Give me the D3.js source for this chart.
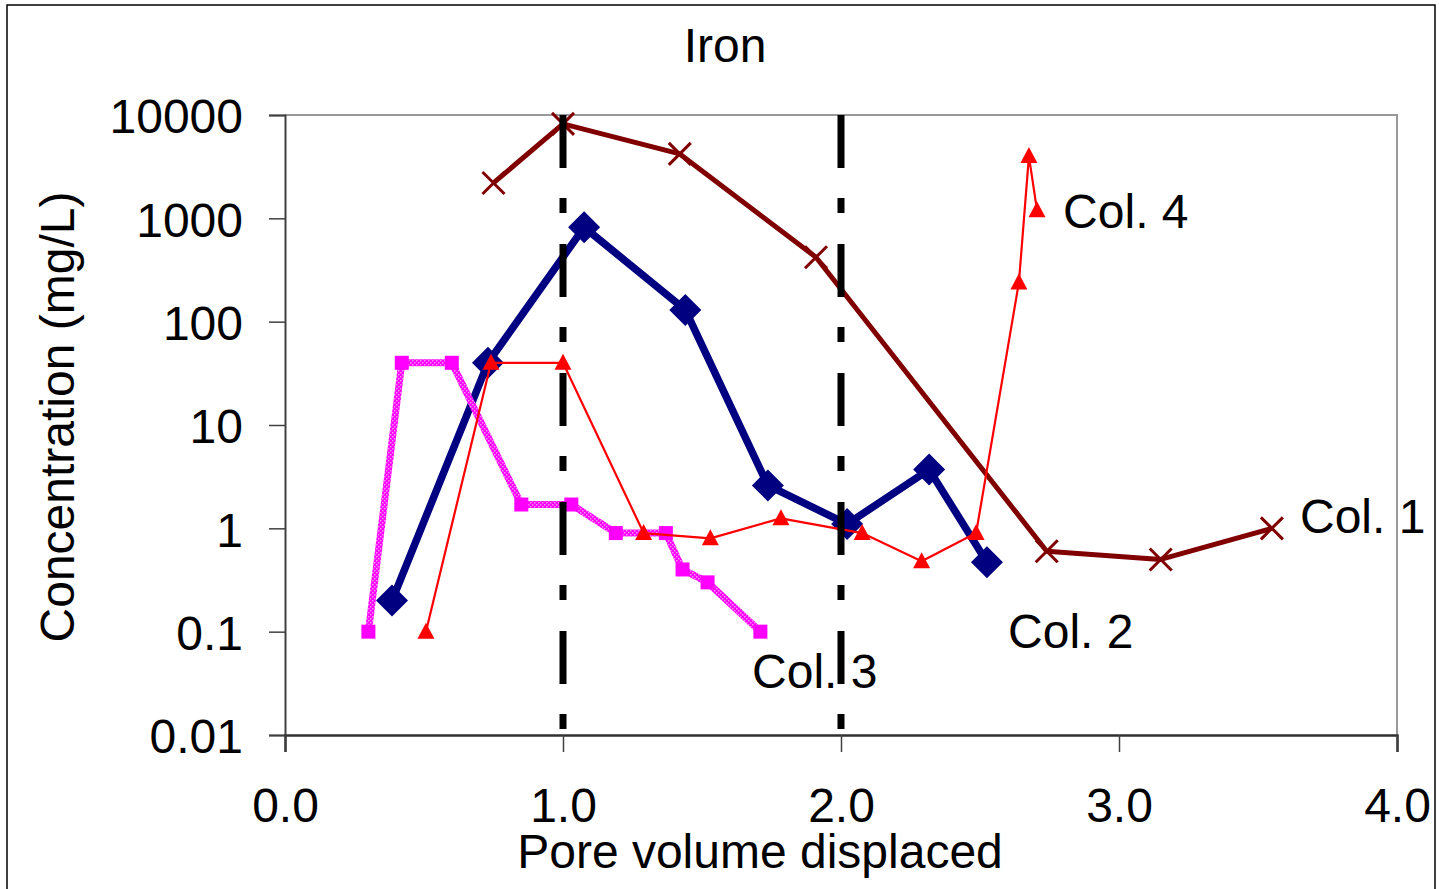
<!DOCTYPE html>
<html>
<head>
<meta charset="utf-8">
<script src="https://cdn.jsdelivr.net/npm/d3@7"></script>
<style>
  html, body { margin: 0; padding: 0; background: #fff; }
  svg { display: block; font-family: "Liberation Sans", Arial, sans-serif; }
</style>
</head>
<body>
<svg id="chart" width="1439" height="889"></svg>
<script>
// ---------------- data ----------------
const col1X = [0.75, 1.0, 1.42, 1.91, 2.74, 3.15, 3.55];
const col1Y = [2200, 8200, 4200, 420, 0.6, 0.5, 1.0];

const col2X = [0.385, 0.73, 1.076, 1.44, 1.737, 2.022, 2.317, 2.525];
const col2Y = [0.2, 40, 820, 130, 2.6, 1.1, 3.7, 0.47];

const col3X = [0.30, 0.42, 0.60, 0.85, 1.03, 1.19, 1.37, 1.43, 1.52, 1.71];
const col3Y = [0.1, 40, 40, 1.7, 1.7, 0.9, 0.9, 0.4, 0.3, 0.1];

const col4X = [0.507, 0.741, 1.0, 1.29, 1.53, 1.784, 2.076, 2.29, 2.486, 2.64, 2.676, 2.705];
const col4Y = [0.1, 40, 40, 0.9, 0.8, 1.25, 0.9, 0.48, 0.9, 240, 4000, 1200];

const xTicks = [0, 1, 2, 3, 4];
const xTickLabels = ["0.0", "1.0", "2.0", "3.0", "4.0"];
const yTicks = [0.01, 0.1, 1, 10, 100, 1000, 10000];
const yTickLabels = ["0.01", "0.1", "1", "10", "100", "1000", "10000"];
const markerLines = [1.0, 2.0];

const seriesNames = ["Col. 1", "Col. 2", "Col. 3", "Col. 4"];
const labelX = [3.651, 2.601, 1.68, 2.799];
const labelY = [0.9, 0.0695, 0.0285, 806];

const titleText = "Iron";
const xTitle = "Pore volume displaced";
const yTitle = "Concentration (mg/L)";

// ---------------- chart ----------------
const svg = d3.select("#chart");
const FS = 48;

const x = d3.scaleLinear().domain([0, 4]).range([285, 1397]);
const y = d3.scaleLog().domain([0.01, 10000]).range([735, 115]);

// outer border
svg.append("rect").attr("x", 7).attr("y", 5).attr("width", 1428).attr("height", 890)
  .attr("fill", "none").attr("stroke", "#000").attr("stroke-width", 1.5);

// pattern for textured magenta line
const defs = svg.append("defs");
const pat = defs.append("pattern").attr("id", "pinkTex")
  .attr("width", 4).attr("height", 4).attr("patternUnits", "userSpaceOnUse");
pat.append("rect").attr("width", 4).attr("height", 4).attr("fill", "#ff00ff");
pat.append("rect").attr("x", 0).attr("y", 0).attr("width", 1.5).attr("height", 1.5).attr("fill", "#ff8cff");
pat.append("rect").attr("x", 2).attr("y", 2).attr("width", 1.5).attr("height", 1.5).attr("fill", "#ff8cff");

// plot area top/right border (gray)
svg.append("path")
  .attr("d", `M${x(0)},${y(10000)}H${x(4)}V${y(0.01)}`)
  .attr("fill", "none").attr("stroke", "#999").attr("stroke-width", 2);

// axes
const yAxis = d3.axisLeft(y).tickValues(yTicks).tickSize(16).tickPadding(26)
  .tickFormat((d, i) => yTickLabels[i]);
const gy = svg.append("g").attr("transform", `translate(${x(0)},0)`).call(yAxis);
gy.select(".domain").attr("stroke", "#404040").attr("stroke-width", 2);
gy.selectAll(".tick line").attr("stroke", "#404040").attr("stroke-width", 1.5);
gy.selectAll(".tick text").attr("font-size", FS).attr("fill", "#000")
  .attr("font-family", "Liberation Sans, Arial, sans-serif").attr("dy", "0.37em");

const xAxis = d3.axisBottom(x).tickValues(xTicks).tickSize(17)
  .tickFormat((d, i) => xTickLabels[i]);
const gx = svg.append("g").attr("transform", `translate(0,${y(0.01)})`).call(xAxis);
gx.select(".domain").attr("stroke", "#303030").attr("stroke-width", 2.5);
gx.selectAll(".tick line").attr("stroke", "#404040").attr("stroke-width", 1.5);
gx.selectAll(".tick text").attr("font-size", FS).attr("fill", "#000")
  .attr("font-family", "Liberation Sans, Arial, sans-serif")
  .attr("y", 87).attr("dy", 0);

// series
const line = d3.line().x(d => x(d[0])).y(d => y(d[1]));
const zip = (a, b) => a.map((v, i) => [v, b[i]]);

const s1 = zip(col1X, col1Y), s2 = zip(col2X, col2Y), s3 = zip(col3X, col3Y), s4 = zip(col4X, col4Y);

// Col. 1
svg.append("path").datum(s1).attr("d", line).attr("fill", "none")
  .attr("stroke", "#800000").attr("stroke-width", 5).attr("stroke-linejoin", "round");
svg.append("g").selectAll("path").data(s1).join("path")
  .attr("transform", d => `translate(${x(d[0])},${y(d[1])})`)
  .attr("d", "M-11,-11L11,11M-11,11L11,-11")
  .attr("stroke", "#800000").attr("stroke-width", 3).attr("fill", "none");

// Col. 2
svg.append("path").datum(s2).attr("d", line).attr("fill", "none")
  .attr("stroke", "#000080").attr("stroke-width", 7.5).attr("stroke-linejoin", "round");
svg.append("g").selectAll("path").data(s2).join("path")
  .attr("transform", d => `translate(${x(d[0])},${y(d[1])})`)
  .attr("d", "M0,-16L16,0L0,16L-16,0Z")
  .attr("fill", "#000080");

// Col. 3
svg.append("path").datum(s3).attr("d", line).attr("fill", "none")
  .attr("stroke", "url(#pinkTex)").attr("stroke-width", 7).attr("stroke-linejoin", "round");
svg.append("g").selectAll("rect").data(s3).join("rect")
  .attr("x", d => x(d[0]) - 7).attr("y", d => y(d[1]) - 7)
  .attr("width", 14).attr("height", 14).attr("fill", "#ff00ff");

// Col. 4
svg.append("path").datum(s4).attr("d", line).attr("fill", "none")
  .attr("stroke", "#ff0000").attr("stroke-width", 2.2).attr("stroke-linejoin", "round");
svg.append("g").selectAll("path").data(s4).join("path")
  .attr("transform", d => `translate(${x(d[0])},${y(d[1])})`)
  .attr("d", "M0,-9L8.5,7L-8.5,7Z")
  .attr("fill", "#ff0000");

// vertical dashed lines
svg.append("g").selectAll("line").data(markerLines).join("line")
  .attr("x1", d => x(d)).attr("x2", d => x(d))
  .attr("y1", y(10000)).attr("y2", y(0.01))
  .attr("stroke", "#000").attr("stroke-width", 7)
  .attr("stroke-dasharray", "53 30 15 31");

// series labels
svg.append("g").selectAll("text").data(seriesNames).join("text")
  .attr("x", (d, i) => x(labelX[i])).attr("y", (d, i) => y(labelY[i]))
  .attr("font-size", FS).attr("fill", "#000").text(d => d);

// titles
svg.append("text").attr("x", 725).attr("y", 62).attr("text-anchor", "middle")
  .attr("font-size", FS).text(titleText);
svg.append("text").attr("x", 760).attr("y", 868).attr("text-anchor", "middle")
  .attr("font-size", FS).text(xTitle);
svg.append("text").attr("transform", "translate(74,417) rotate(-90)")
  .attr("text-anchor", "middle").attr("font-size", FS).text(yTitle);
</script>
</body>
</html>
